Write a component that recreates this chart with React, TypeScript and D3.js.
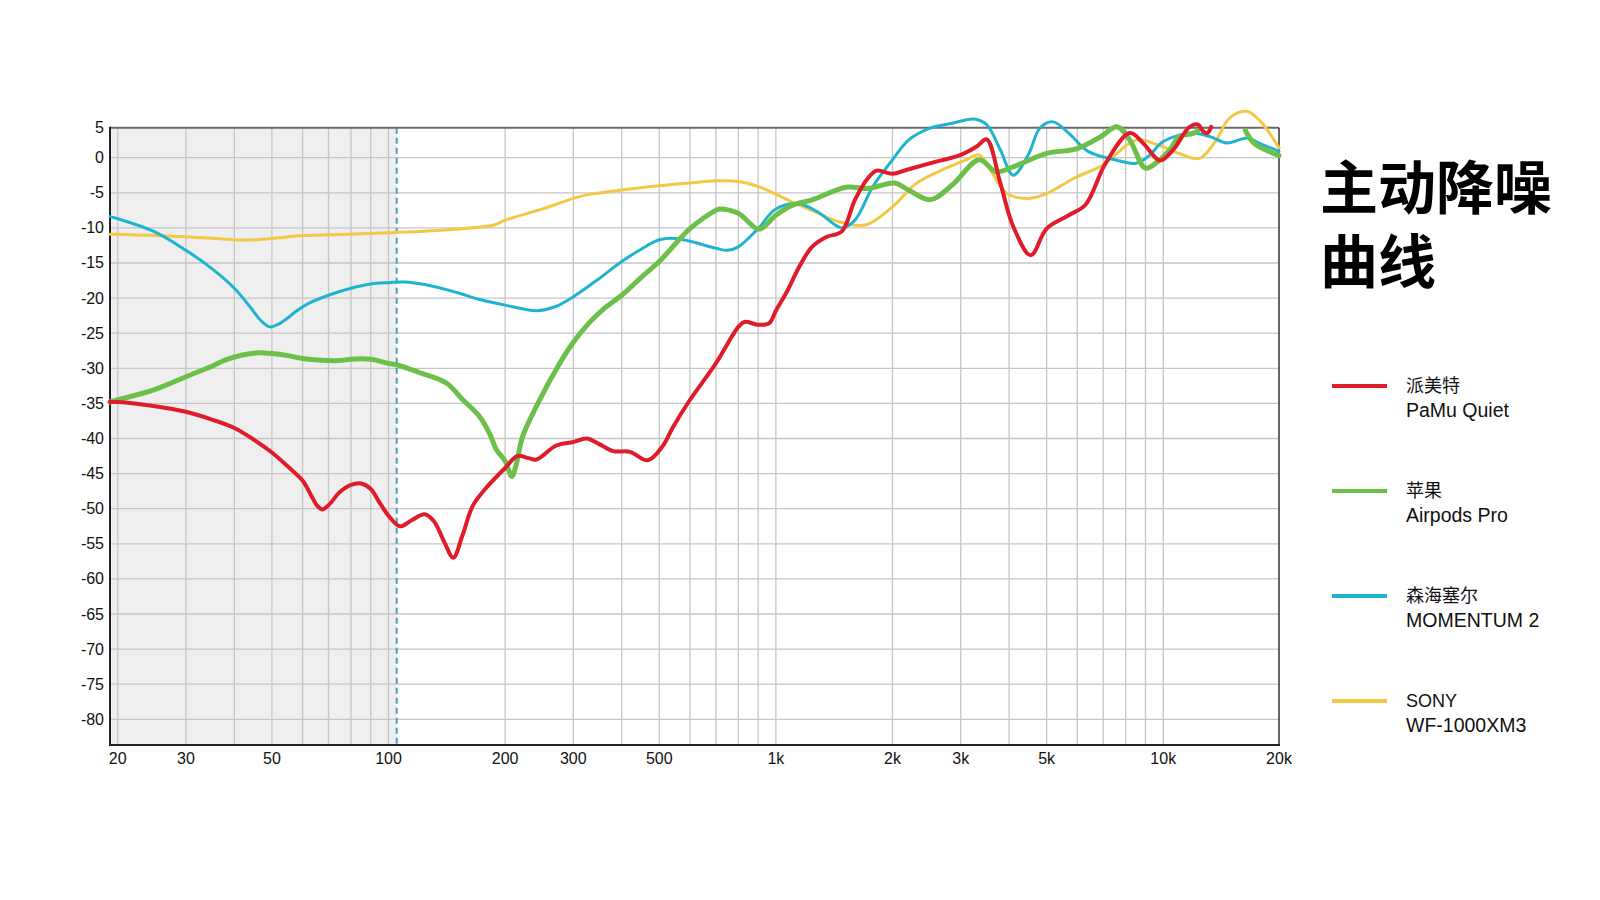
import React from "react";
import * as d3 from "d3";

type Pt = [number, number | null];

const seriesNames = ["派美特", "苹果", "森海塞尔", "SONY"];
const seriesSub = ["PaMu Quiet", "Airpods Pro", "MOMENTUM 2", "WF-1000XM3"];
const seriesColors = ["#e01b2a", "#6cc04a", "#20b3cf", "#f2c844"];
const seriesWidths = [4, 5, 3, 3];

const pamu: Pt[] = [
  [19.1, -34.8], [20, -34.8], [25, -35.4], [30, -36.2], [35, -37.3], [40, -38.5], [45, -40.2],
  [50, -42], [55, -44], [60, -46], [63, -48], [65.5, -49.6], [67.5, -50.1], [70, -49.5], [75, -47.6],
  [80, -46.6], [85, -46.4], [90, -47.2], [95, -49.2], [100, -51], [107, -52.5], [115, -51.6],
  [124, -50.8], [131, -51.8], [140, -55], [147, -57], [155, -53.9], [165, -49.6], [177, -47.3],
  [200, -44.2], [215, -42.5], [230, -42.8], [241, -43], [271, -41], [300, -40.5], [325, -40],
  [350, -40.8], [380, -41.8], [420, -41.9], [467, -43.1], [510, -41.1], [541, -38.5], [595, -34.8],
  [700, -29.3], [800, -24.1], [830, -23.4], [900, -23.8], [960, -23.6], [1000, -21.8], [1070, -19],
  [1150, -15.5], [1240, -12.7], [1350, -11.3], [1480, -10.5], [1600, -6], [1730, -2.9], [1820, -1.85],
  [2000, -2.3], [2170, -1.75], [2500, -0.8], [3000, 0.4], [3300, 1.6], [3500, 2.6], [3800, -3.7],
  [4100, -9.8], [4550, -13.9], [5000, -10.1], [5700, -8.2], [6300, -6.7], [7100, -0.8], [8200, 3.5],
  [8900, 2], [9800, -0.4], [10600, 1.1], [11700, 4.4], [12300, 4.7], [12700, 3.7], [13000, 3.5], [13300, 4.4],
];

const airpods: Pt[] = [
  [19.1, -34.8], [20, -34.5], [25, -33], [30, -31.2], [35, -29.7], [38, -28.8], [42, -28.1],
  [46, -27.8], [50, -27.9], [55, -28.2], [60, -28.6], [70, -28.9], [75, -28.9], [80, -28.7], [90, -28.7],
  [100, -29.3], [105, -29.5], [120, -30.6], [141, -32.1], [155, -34.4], [172, -36.9], [182, -39.2],
  [190, -41.6], [200, -43.2], [208, -45.4], [213, -44], [222, -39.7], [241, -35.4], [270, -30.3],
  [300, -26.3], [330, -23.5], [360, -21.5], [400, -19.6], [450, -17], [500, -14.8], [600, -10.1], [700, -7.5],
  [715, -7.3], [800, -7.9], [905, -10.2], [1000, -8.2], [1100, -6.8], [1240, -6], [1520, -4.2],
  [1730, -4.4], [2020, -3.6], [2200, -4.6], [2500, -6], [2850, -3.9], [3350, -0.3], [3700, -2],
  [4100, -1.3], [5000, 0.6], [6000, 1.3], [6900, 3], [7600, 4.4], [8200, 2.5], [9000, -1.5],
  [9800, -0.3], [10400, 1.1], [11000, 3], [12000, 3.5], [12300, 3.9], [14000, null],
  [16300, 3.9], [17200, 2], [19700, 0.4], [19900, 0.3],
];

const momentum: Pt[] = [
  [19.1, -8.4], [20, -8.7], [25, -10.6], [30, -13.2], [35, -15.8], [40, -18.6], [44, -21.3],
  [47, -23.3], [49.5, -24.1], [52, -23.7], [55, -22.8], [58, -21.8], [62, -20.8], [70, -19.6], [80, -18.6], [90, -18.0],
  [100, -17.8], [110, -17.7], [125, -18.1], [150, -19.2], [172, -20.2], [200, -21], [241, -21.8],
  [270, -21.2], [300, -19.8], [350, -17.2], [400, -14.8], [450, -13], [500, -11.7], [550, -11.5],
  [600, -11.9], [700, -12.9], [750, -13.2], [800, -12.7], [900, -10.1], [1000, -7.3], [1150, -6.6],
  [1280, -7.7], [1480, -10], [1600, -8.9], [1780, -4.1], [2000, -0.3], [2200, 2.5], [2500, 4.2],
  [2850, 4.9], [3250, 5.5], [3500, 4.7], [3800, 1.1], [4100, -2.5], [4500, 0.6], [4800, 4.2],
  [5200, 5.1], [5700, 3.5], [6400, 0.9], [7500, -0.3], [8500, -0.8], [9200, 0.3], [10000, 2.3],
  [11800, 3.5], [13200, 3.0], [14600, 2.1], [16500, 2.8], [17800, 2.0], [19900, 0.9],
];

const sony: Pt[] = [
  [19.1, -10.9], [30, -11.25], [40, -11.7], [45, -11.7], [50, -11.5], [60, -11.1], [80, -10.9],
  [100, -10.7], [140, -10.3], [187, -9.6], [200, -8.9], [250, -7.3], [300, -5.8], [325, -5.3],
  [400, -4.6], [500, -4.0], [600, -3.6], [700, -3.3], [800, -3.4], [900, -4.1], [1000, -5.2],
  [1100, -6.3], [1240, -7.5], [1450, -9.1], [1700, -9.6], [2000, -7], [2300, -3.7], [2750, -1.5],
  [3100, -0.3], [3350, 0.4], [3600, -2], [3950, -5.1], [4500, -5.8], [5000, -5.1], [5900, -2.9],
  [7000, -1], [8500, 2.5], [9700, 1.8], [11000, 0.6], [12400, -0.1], [13700, 2.5], [14800, 5.6],
  [16400, 6.6], [17800, 5.2], [19900, 1.4],
];

const seriesData = [pamu, airpods, momentum, sony];
const drawOrder = [3, 2, 1, 0];

const yTicks = [5, 0, -5, -10, -15, -20, -25, -30, -35, -40, -45, -50, -55, -60, -65, -70, -75, -80];
const xTickValues = [20, 30, 50, 100, 200, 300, 500, 1000, 2000, 3000, 5000, 10000, 20000];
const xTickLabels = ["20", "30", "50", "100", "200", "300", "500", "1k", "2k", "3k", "5k", "10k", "20k"];
const xGridValues = [
  20, 30, 40, 50, 60, 70, 80, 90, 100, 200, 300, 400, 500, 600, 700, 800, 900,
  1000, 2000, 3000, 4000, 5000, 6000, 7000, 8000, 9000, 10000,
];
const shadeEnd = 105;
const titleLines = ["主动降噪", "曲线"];

const FONT = "'Liberation Sans', Arial, 'Noto Sans CJK SC', sans-serif";

export default function App() {
  const left = 110, right = 1279, top = 127.7, bottom = 745;
  const x = d3.scaleLog().domain([19.1, 19900]).range([left, right]);
  const y = d3.scaleLinear().domain([4.27, -83.66]).range([top, bottom]);
  const line = d3
    .line<Pt>()
    .defined((d) => d[1] !== null)
    .x((d) => x(d[0]))
    .y((d) => y(d[1] as number))
    .curve(d3.curveCatmullRom.alpha(0.5));

  return (
    <svg width={1600} height={900} style={{ position: "absolute", left: 0, top: 0, background: "#fff" }}>
      <rect x={0} y={0} width={1600} height={900} fill="#fff" />
      <rect x={left} y={top} width={x(shadeEnd) - left} height={bottom - top} fill="#efefef" />
      {yTicks
        .filter((v) => y(v) > top + 1)
        .map((v) => (
          <line key={"yg" + v} x1={left} x2={right} y1={y(v)} y2={y(v)} stroke="#c6c6c6" strokeWidth={1.3} />
        ))}
      {xGridValues.map((v) => (
        <line key={"xg" + v} x1={x(v)} x2={x(v)} y1={top} y2={bottom} stroke="#c6c6c6" strokeWidth={1.3} />
      ))}
      <line x1={x(shadeEnd)} x2={x(shadeEnd)} y1={top} y2={bottom} stroke="#4a9ec2" strokeWidth={2} strokeDasharray="6,4" />
      {/* frame */}
      <line x1={left} x2={right} y1={top} y2={top} stroke="#6a6a6a" strokeWidth={2} />
      <line x1={right} x2={right} y1={top} y2={bottom} stroke="#333" strokeWidth={1.5} />
      <line x1={left} x2={left} y1={top - 1} y2={bottom + 1} stroke="#222" strokeWidth={2} />
      <line x1={left - 1} x2={right + 1} y1={bottom} y2={bottom} stroke="#222" strokeWidth={2} />
      {/* curves */}
      {drawOrder.map((i) => (
        <path
          key={"s" + i}
          d={line(seriesData[i]) || ""}
          fill="none"
          stroke={seriesColors[i]}
          strokeWidth={seriesWidths[i]}
          strokeLinejoin="round"
          strokeLinecap="round"
        />
      ))}
      {/* y labels */}
      {yTicks.map((v) => (
        <text
          key={"yl" + v}
          x={104}
          y={Math.max(y(v), top)}
          textAnchor="end"
          dominantBaseline="central"
          fontFamily={FONT}
          fontSize={16}
          fill="#111"
        >
          {v}
        </text>
      ))}
      {/* x labels */}
      {xTickValues.map((v, i) => (
        <text key={"xl" + v} x={x(Math.min(v, 19900))} y={764} textAnchor="middle" fontFamily={FONT} fontSize={16} fill="#111">
          {xTickLabels[i]}
        </text>
      ))}
      {/* title */}
      <text
        x={1320}
        y={209}
        fontFamily="'Noto Sans CJK SC', sans-serif"
        fontWeight={700}
        fontSize={58}
        fill="#000"
      >
        {titleLines.map((t, i) => (
          <tspan key={"t" + i} x={1320} dy={i === 0 ? 0 : 74}>
            {t}
          </tspan>
        ))}
      </text>
      {/* legend */}
      {seriesNames.map((n, i) => {
        const ly = 386 + i * 105;
        return (
          <g key={"lg" + i}>
            <line x1={1332} x2={1387} y1={ly} y2={ly} stroke={seriesColors[i]} strokeWidth={4} />
            <text x={1406} y={ly} dominantBaseline="central" fontFamily={FONT} fontSize={18} fill="#111">
              {n}
            </text>
            <text x={1406} y={ly + 31} fontFamily={FONT} fontSize={19.5} fill="#111">
              {seriesSub[i]}
            </text>
          </g>
        );
      })}
    </svg>
  );
}
